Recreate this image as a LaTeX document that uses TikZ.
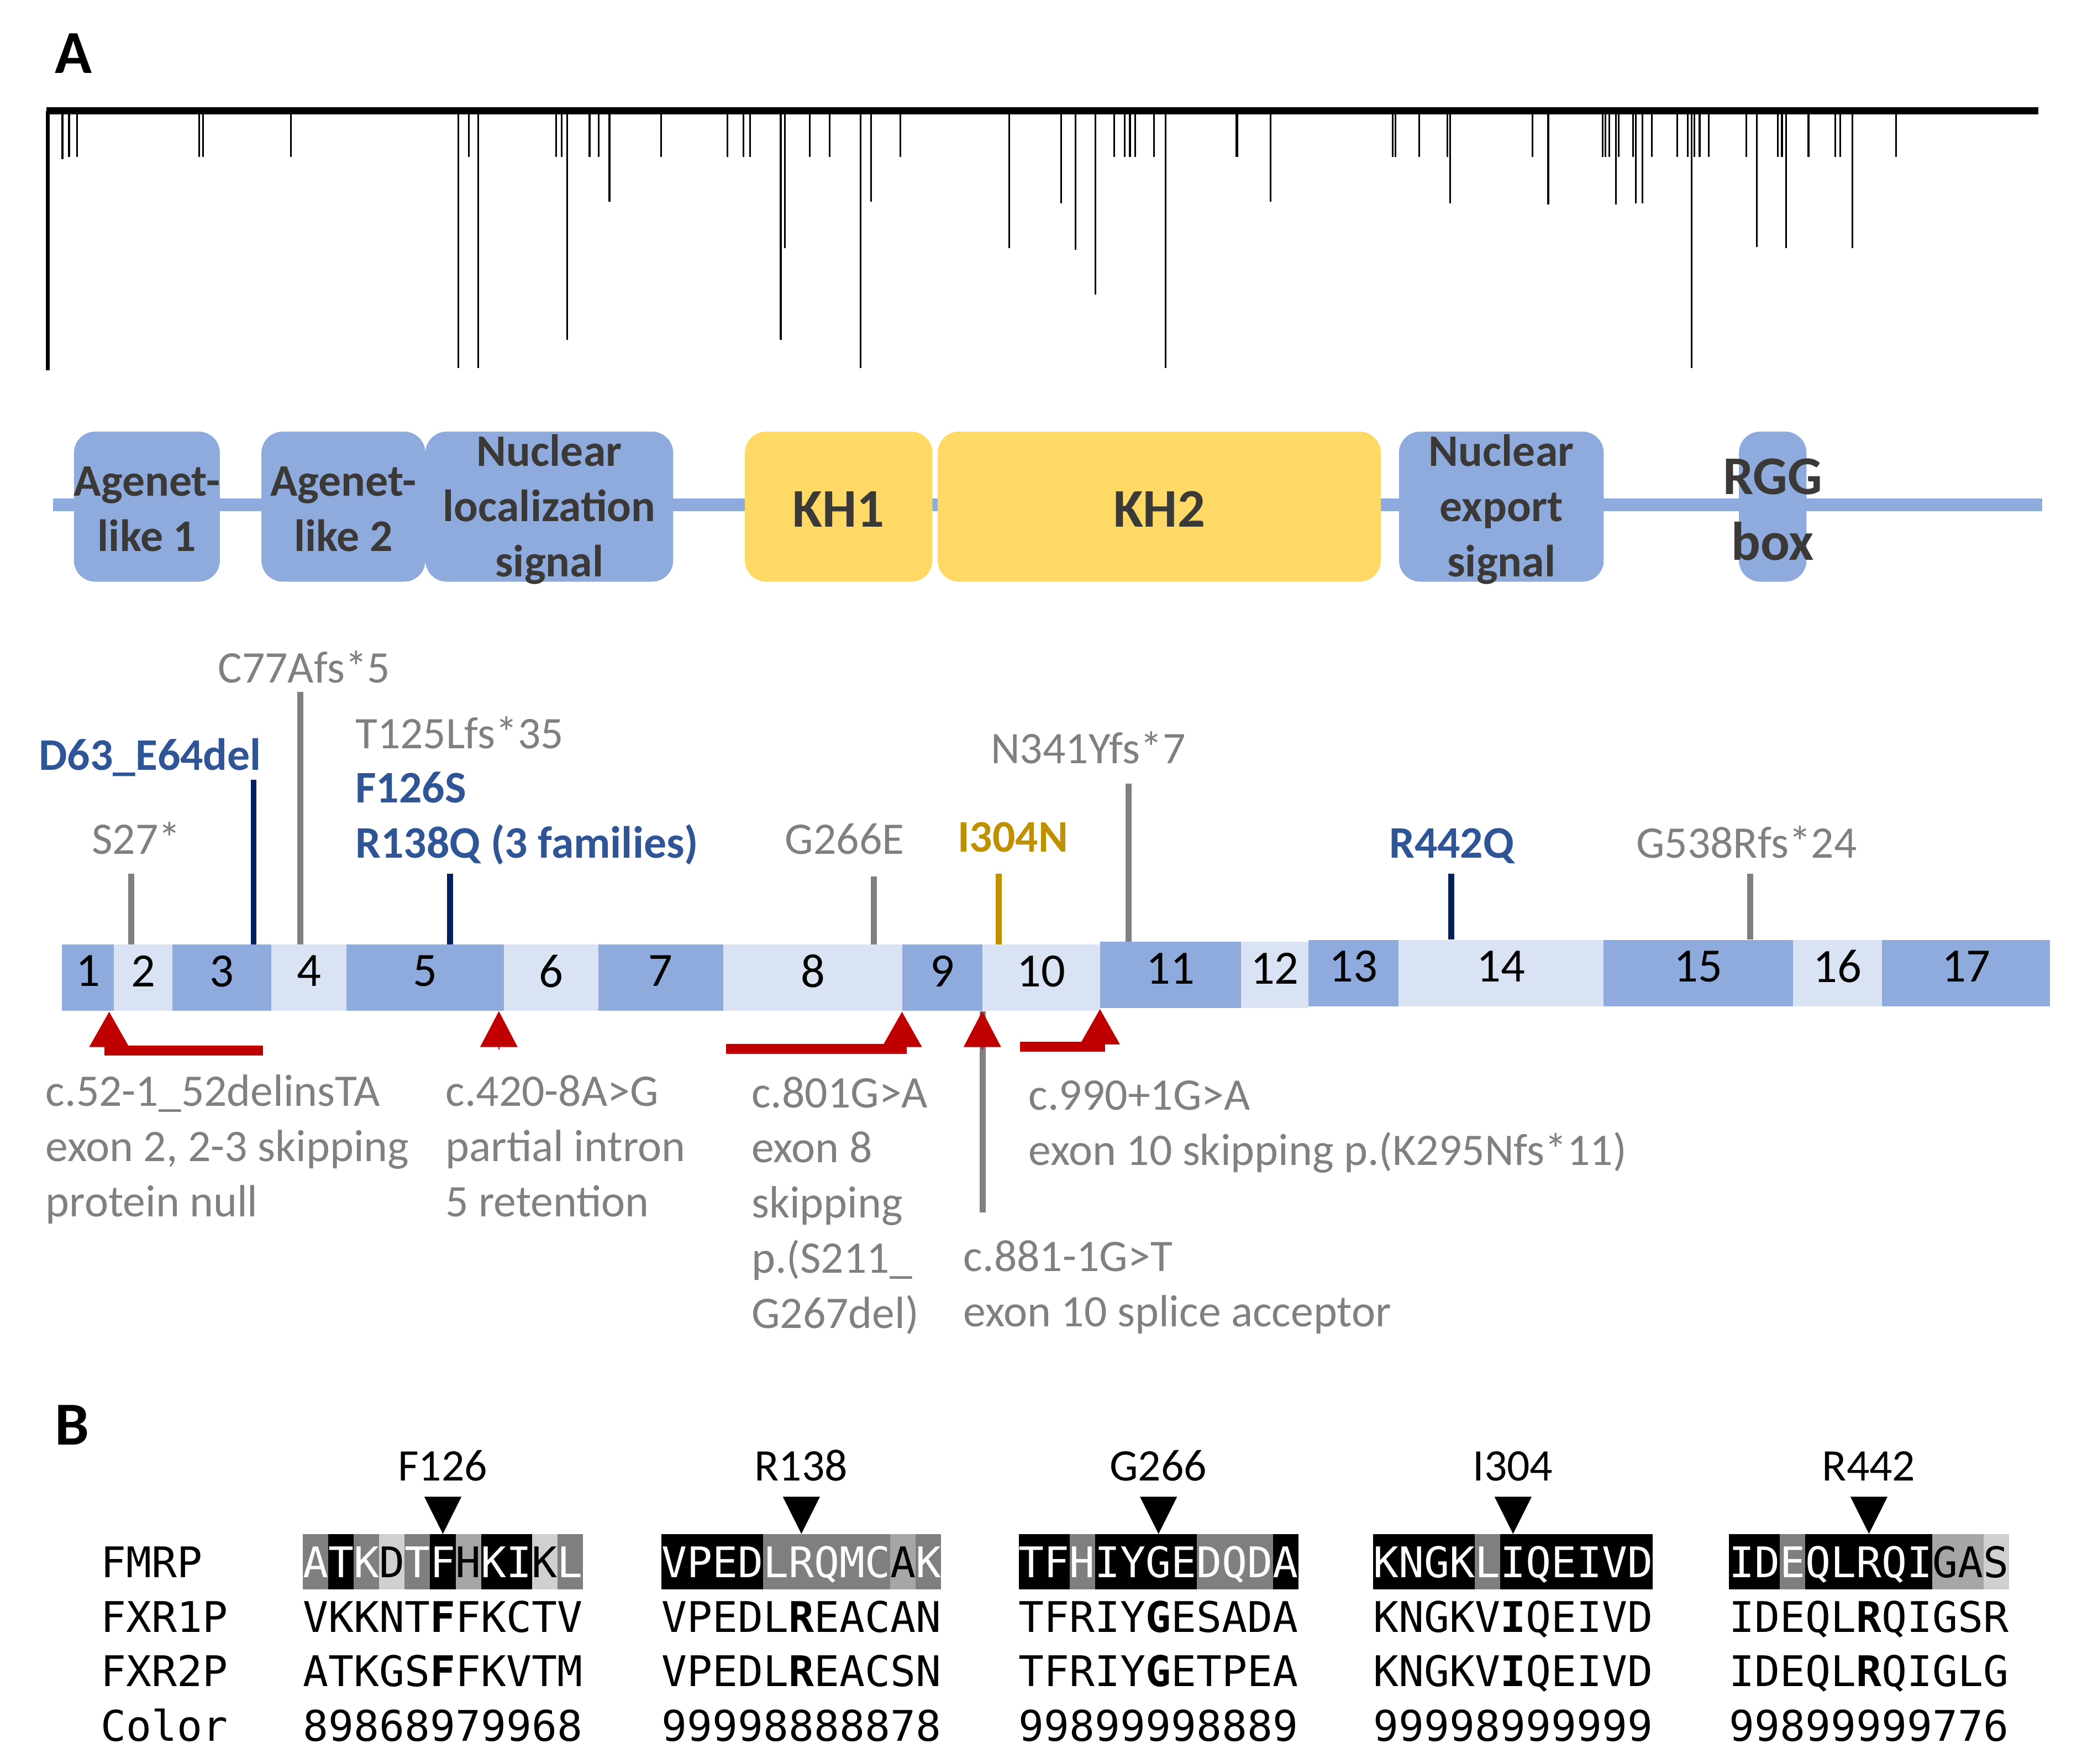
\documentclass[tikz,border=0pt]{standalone}
\usepackage{fontspec}
\setmainfont{Carlito}
\setmonofont{DejaVu Sans Mono}
\usetikzlibrary{arrows.meta}

\definecolor{dombl}{RGB}{143,170,220}
\definecolor{domyl}{RGB}{255,217,102}
\definecolor{exlt}{RGB}{218,227,243}
\definecolor{domtext}{RGB}{59,56,56}
\definecolor{txtgray}{RGB}{128,128,128}
\definecolor{mutblue}{RGB}{47,85,151}
\definecolor{mutnavy}{RGB}{0,32,96}
\definecolor{mutgold}{RGB}{191,144,0}
\definecolor{splred}{RGB}{192,0,0}
\definecolor{cell9}{RGB}{0,0,0}
\definecolor{cell8}{RGB}{127,127,127}
\definecolor{cell7}{RGB}{166,166,166}
\definecolor{cell6}{RGB}{208,208,208}
\colorlet{txt9}{white}
\colorlet{txt8}{white}
\colorlet{txt7}{black}
\colorlet{txt6}{black}

\begin{document}
\begin{tikzpicture}[x=1pt, y=-1pt,
    panel/.style={anchor=base west, inner sep=0pt, font=\fontsize{46}{50}\selectfont\bfseries},
    spike/.style={line width=1.3pt},
    dombox/.style={rounded corners=16pt, inner sep=0pt, minimum height=113pt},
    domlbl/.style={align=center, inner sep=0pt, text=domtext, yshift=-2pt,
        font=\fontsize{34}{41.5}\selectfont\bfseries},
    khlbl/.style={domlbl, font=\fontsize{41}{49.5}\selectfont\bfseries},
    exon/.style={inner sep=0pt, anchor=north west, minimum height=50pt,
        text depth=10pt, font=\fontsize{36}{40}\selectfont},
    mutline/.style={line width=4.5pt},
    mutlbl/.style={anchor=base west, inner sep=0pt, font=\fontsize{34}{41.5}\selectfont},
    notelbl/.style={mutlbl, align=left, text=txtgray},
    splice/.style={splred, line width=7.5pt, -{Triangle[length=27pt, width=28pt]}},
    splicetip/.style={splice, line width=1pt},
    cell/.style={anchor=north west, inner sep=0pt, minimum width=\cw, minimum height=41.5pt,
        text height=24pt, text depth=0pt, font=\fontsize{31.8}{41}\ttfamily},
    seqrow/.style={anchor=base west, inner sep=0pt, font=\fontsize{31.8}{41}\ttfamily},
    seqlbl/.style={anchor=base, inner sep=0pt, font=\fontsize{34}{41}\selectfont}
  ]

  \useasboundingbox (0,0) rectangle (1568,1328);

  \node[panel] (pA) at (41,55) {A};
  \node[panel] (pB) at (41,1088) {B};

  %variant track
  \draw[line width=5.5pt] (35,83.5) -- (1535,83.5);
  \draw[line width=3pt] (36,83.5) -- (36,279);
  \foreach \x/\b in {47/120, 52/118, 58/118, 150/118, 153/118, 219/118, 345/277, 353/118,
      360/277, 419/118, 423/118, 427/256, 444/118, 451/118, 459/152, 498/118, 548/118,
      560/118, 565/118, 588/256, 591/187, 610/118, 625/118, 648/277, 656/152, 678/118,
      760/187, 799/153, 810/188, 825/222, 839/118, 847/118, 851/118, 855/118, 869/118,
      878/277, 931/118, 932/118, 957/152, 1049/118, 1051/118, 1069/118, 1090/118, 1092/153,
      1154/118, 1166/154, 1207/118, 1209/118, 1212/118, 1217/154, 1219/118, 1230/118,
      1232/153, 1237/153, 1244/118, 1263/118, 1271/118, 1274/277, 1276/118, 1280/118,
      1287/118, 1315/118, 1323/186, 1339/118, 1342/118, 1345/187, 1362/118, 1382/118,
      1386/118, 1395/187, 1428/118}{
    \draw[spike] (\x,83.5) -- (\x,\b);
  }

  %domains
  \draw[dombl, line width=9.5pt] (40,380) -- (1538,380);
  \foreach \name/\xa/\xb/\col in {agl1/55.5/165.4/dombl, agl2/196.7/320.2/dombl,
      nls/320.2/506.8/dombl, kh1/560.8/702/domyl, kh2/706/1039.7/domyl,
      nes/1053.4/1207.6/dombl, rgg/1309.4/1360.3/dombl}{
    \node[dombox, fill=\col, minimum width=\xb-\xa, anchor=west] (\name) at (\xa,381.5) {};
  }
  \node[domlbl] (tagl1) at (agl1) {Agenet-\\like 1};
  \node[domlbl] (tagl2) at (agl2) {Agenet-\\like 2};
  \node[domlbl] (tnls) at (nls) {Nuclear\\localization\\signal};
  \node[khlbl] (tkh1) at (kh1) {KH1};
  \node[khlbl] (tkh2) at (kh2) {KH2};
  \node[domlbl] (tnes) at (nes) {Nuclear\\export\\signal};
  \node[khlbl] (trgg) at (rgg) {RGG\\box};

  %exons
  \foreach \n/\xa/\xb/\ty/\sh in {1/46.4/85.7/711/dombl, 2/85.7/129.6/711/exlt,
      3/129.6/204.2/711/dombl, 4/204.2/260.7/711/exlt, 5/260.7/379.2/711/dombl,
      6/379.2/450.3/711/exlt, 7/450.3/544.6/711/dombl, 8/544.6/679.3/711/exlt,
      9/679.3/739.8/711/dombl, 10/739.8/828.4/711/exlt, 11/828.4/934.3/709/dombl,
      12/934.3/985.2/709/exlt, 13/985.2/1052.9/707.5/dombl, 14/1052.9/1207.6/707.5/exlt,
      15/1207.6/1350.2/707.5/dombl, 16/1350.2/1417.3/707.5/exlt, 17/1417.3/1543.6/707.5/dombl}{
    \node[exon, fill=\sh, minimum width=\xb-\xa] (ex\n) at (\xa,\ty) {\n};
  }

  %variants above
  \foreach \x/\t/\c/\e in {99/658/txtgray/2, 191/587/mutnavy/3, 226/521/txtgray/4,
      339/658/mutnavy/5, 658/660/txtgray/8, 752/658/mutgold/10, 850/590/txtgray/11,
      1093/658/mutnavy/14, 1318/658/txtgray/15}{
    \coordinate (mut\x) at (\x,\t);
    \draw[mutline, \c] (mut\x) -- (mut\x |- ex\e.north);
  }
  \node[mutlbl, text=txtgray] (c77) at (164,514) {C77Afs*5};
  \node[mutlbl, text=txtgray] (t125) at (267.5,563.5) {T125Lfs*35};
  \node[mutlbl, text=mutblue, font=\fontsize{34}{41.5}\selectfont\bfseries] (f126) at (267.5,604.5) {F126S};
  \node[mutlbl, text=mutblue, font=\fontsize{34}{41.5}\selectfont\bfseries] (r138) at (267.5,646) {R138Q (3 families)};
  \node[mutlbl, text=mutblue, font=\fontsize{34}{41.5}\selectfont\bfseries] (d63) at (29,580) {D63\_E64del};
  \node[mutlbl, text=txtgray] (s27) at (69,643) {S27*};
  \node[mutlbl, text=txtgray] (g266) at (591,643) {G266E};
  \node[mutlbl, text=mutgold, font=\fontsize{34}{41.5}\selectfont\bfseries] (i304) at (721,641.5) {I304N};
  \node[mutlbl, text=txtgray] (n341) at (746,575) {N341Yfs*7};
  \node[mutlbl, text=mutblue, font=\fontsize{34}{41.5}\selectfont\bfseries] (r442) at (1046,646) {R442Q};
  \node[mutlbl, text=txtgray] (g538) at (1232,646) {G538Rfs*24};

  %splice variants below
  \coordinate (sp1) at (198,791);
  \coordinate (sp3) at (547,790);
  \coordinate (sp5) at (768,788);
  \coordinate (acc) at (740,913);
  \draw[splice] (sp1) -| ([xshift=-3.5pt]ex2.south west);
  \draw[splicetip] ([xshift=-3.5pt,yshift=-29pt]ex6.south west) -- ([xshift=-3.5pt]ex6.south west);
  \draw[splice] (sp3) -| (ex9.south west);
  \draw[mutline, txtgray] (acc) -- (acc |- ex10.south west);
  \draw[splicetip] ([yshift=-29pt]ex10.south west) -- (ex10.south west);
  \draw[splice] (sp5) -| (ex11.south west);

  % base of a multi-line node = last line
  \node[notelbl] (n52) at (34.3,916) {c.52-1\_52delinsTA\\exon 2, 2-3 skipping\\protein null};
  \node[notelbl] (n420) at (335.4,916) {c.420-8A>G\\partial intron\\5 retention};
  \node[notelbl] (n801) at (565.8,1000) {c.801G>A\\exon 8\\skipping\\p.(S211\_\\G267del)};
  \node[notelbl] (n990) at (774.5,877.5) {c.990+1G>A\\exon 10 skipping p.(K295Nfs*11)};
  \node[notelbl] (n881) at (725.5,999) {c.881-1G>T\\exon 10 splice acceptor};

  %alignment
  \def\cw{19.15}
  \foreach \r/\yb in {FMRP/1188, FXR1P/1229, FXR2P/1270, Color/1311}{
    \node[seqrow] (row\r) at (75.6,\yb) {\r};
  }
  \foreach \b/\xs/\lab/\fm/\ra/\rb/\cl in {
      1/228/F126/{A/8,T/9,K/8,D/6,T/8,F/9,H/7,K/9,I/9,K/6,L/8}/VKKNT\textbf{F}FKCTV/ATKGS\textbf{F}FKVTM/89868979968,
      2/498/R138/{V/9,P/9,E/9,D/9,L/8,R/8,Q/8,M/8,C/8,A/7,K/8}/VPEDL\textbf{R}EACAN/VPEDL\textbf{R}EACSN/99998888878,
      3/767/G266/{T/9,F/9,H/8,I/9,Y/9,G/9,E/9,D/8,Q/8,D/8,A/9}/TFRIY\textbf{G}ESADA/TFRIY\textbf{G}ETPEA/99899998889,
      4/1034/I304/{K/9,N/9,G/9,K/9,L/8,I/9,Q/9,E/9,I/9,V/9,D/9}/KNGKV\textbf{I}QEIVD/KNGKV\textbf{I}QEIVD/99998999999,
      5/1302/R442/{I/9,D/9,E/8,Q/9,L/9,R/9,Q/9,I/9,G/7,A/7,S/6}/IDEQL\textbf{R}QIGSR/IDEQL\textbf{R}QIGLG/99899999776}{
    \foreach \ch/\cc [count=\i from 0] in \fm{
      \node[cell, fill=cell\cc, text=txt\cc] (s\b-\i) at (\xs+\i*\cw,1155) {\ch};
    }
    \fill (s\b-5.north) -- ++(-14,-28) -- ++(28,0) -- cycle;
    \node[seqlbl] (lab\b) at (\xs+5.5*\cw,1115) {\lab};
    \node[seqrow] (fx1-\b) at (\xs,1229) {\ra};
    \node[seqrow] (fx2-\b) at (\xs,1270) {\rb};
    \node[seqrow] (col-\b) at (\xs,1311) {\cl};
  }

\end{tikzpicture}
\end{document}
